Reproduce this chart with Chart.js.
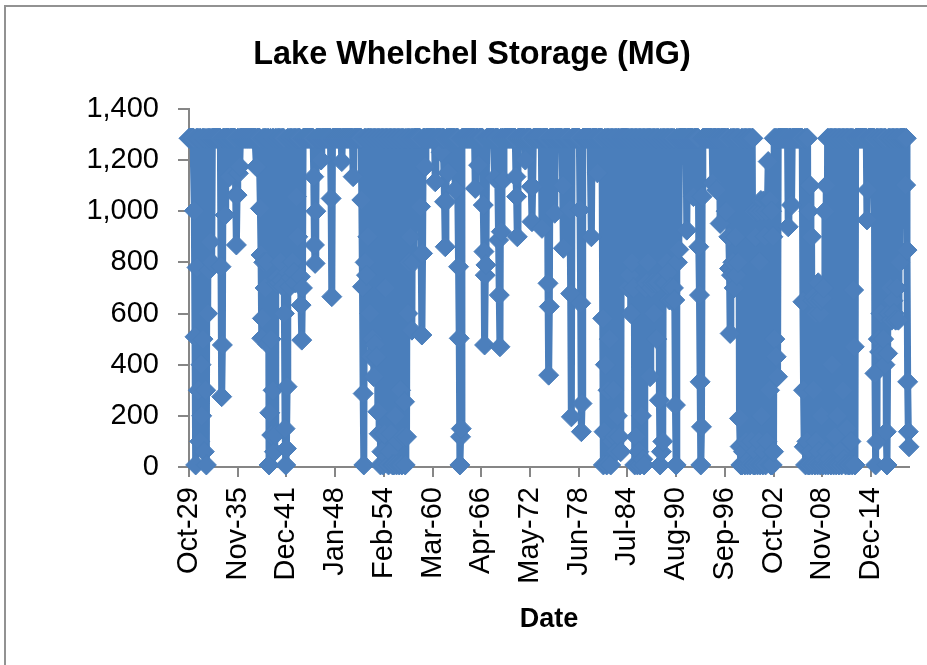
<!DOCTYPE html>
<html>
<head>
<meta charset="utf-8">
<title>Lake Whelchel Storage (MG)</title>
<script src="https://cdn.jsdelivr.net/npm/chart.js@4"></script>
<style>
    html, body { margin: 0; padding: 0; background: #fff; overflow: hidden; }
    #frame { position: absolute; left: 4px; top: 5px; width: 960px; height: 700px; border: 2px solid #929292; }
    #wrap { position: absolute; left: 0; top: 0; width: 927px; height: 665px; overflow: hidden; }
    canvas { position: absolute; left: 0; top: 0; }
</style>
</head>
<body>
<div id="wrap">
    <div id="frame"></div>
    <canvas id="canvas" width="927" height="665"></canvas>
</div>
<script>
var chartTitle = 'Lake Whelchel Storage (MG)';
var xTitle = 'Date';
var tickLabels = ['Oct-29', 'Nov-35', 'Dec-41', 'Jan-48', 'Feb-54', 'Mar-60', 'Apr-66', 'May-72',
    'Jun-78', 'Jul-84', 'Aug-90', 'Sep-96', 'Oct-02', 'Nov-08', 'Dec-14'];
var monthsPerTick = 73;

// F = pool full., one value a month from Oct-29, 30 months a row
var F = 1285;
var storage = [
    F,F,F,F,F,F,F,F,1002,509,8,F,780,F,300,F,100,F,400,200,F,500,F,60,F,300,8,F,600,F,
    770,F,880,F,800,F,F,F,F,F,F,F,F,F,F,F,F,F,783,275,477,F,F,F,985,F,F,F,F,F,
    F,1135,F,F,F,F,F,F,F,F,1063,868,1063,F,1148,F,1175,F,F,F,F,F,F,F,F,F,F,F,F,F,
    F,F,F,F,F,F,F,F,F,F,F,1174,F,F,F,F,F,1011,829,503,581,F,800,F,700,F,800,F,480,F,
    8,212,F,500,125,F,300,F,60,125,F,720,F,740,F,720,F,800,F,730,F,705,F,600,150,8,72,314,F,760,
    F,705,F,740,F,800,F,760,F,720,F,1057,F,900,F,F,F,744,633,496,700,F,F,F,F,F,F,F,F,F,
    F,F,F,F,F,F,F,1135,868,796,1000,F,F,F,F,F,F,F,1200,F,F,F,F,F,F,F,F,F,F,F,
    F,F,F,1050,666,F,F,F,F,F,F,F,F,F,F,F,F,F,F,1194,F,F,F,F,F,F,F,F,F,F,
    F,F,F,F,F,F,1135,F,F,F,F,F,F,F,F,F,F,F,F,1044,705,287,8,F,800,F,750,F,900,F,
    F,600,F,431,F,500,F,353,F,480,F,431,F,216,F,130,F,8,F,60,F,8,F,130,F,700,F,40,F,8,
    F,60,F,130,F,8,F,8,F,200,F,8,F,100,F,8,F,300,F,8,F,118,F,255,8,F,118,F,600,F,
    800,F,900,F,535,F,800,F,F,F,F,F,F,F,F,F,F,1018,835,516,835,F,F,F,1174,F,F,F,F,F,
    F,F,F,F,F,F,F,F,F,1115,F,F,F,F,F,F,F,F,1230,F,F,F,F,1037,861,1037,F,F,1150,F,
    F,F,F,F,F,F,F,F,F,1083,F,F,F,F,783,503,8,118,150,F,F,F,F,F,F,F,F,F,F,F,
    F,F,F,F,F,F,F,F,F,1089,F,F,F,F,1180,F,F,F,F,F,F,1024,842,477,750,790,F,F,F,F,
    F,F,F,F,F,F,F,F,1130,F,F,F,F,F,887,672,470,F,920,F,F,1122,F,F,F,F,F,F,F,F,
    F,F,F,F,F,F,F,F,F,F,1135,1057,900,F,F,F,F,F,F,F,F,F,F,F,1200,F,F,F,F,F,
    F,F,F,1096,959,1096,F,F,F,F,F,F,F,F,F,F,F,F,F,933,F,F,F,F,F,F,F,F,718,359,
    627,F,F,F,F,F,F,F,992,F,F,F,F,F,F,F,F,F,F,F,1100,855,F,F,F,F,F,F,F,F,
    F,1005,678,196,F,F,F,F,F,F,F,F,F,F,F,F,1005,640,138,248,F,F,F,F,F,F,F,F,F,F,
    F,F,F,900,F,F,F,F,F,F,F,F,1150,F,F,F,F,F,F,F,581,8,138,F,400,F,8,F,300,F,
    500,F,8,F,100,F,300,F,118,F,60,F,200,F,F,118,F,60,F,F,F,F,F,F,F,F,F,F,700,F,
    750,F,600,F,800,F,700,F,8,F,118,F,8,F,60,F,8,F,200,F,30,F,8,F,700,F,720,F,800,F,
    F,353,F,700,F,720,F,600,F,720,F,500,F,720,F,261,8,F,60,F,100,F,720,F,720,F,800,F,760,F,
    653,F,700,F,650,F,700,F,653,242,8,F,800,F,850,F,F,F,F,F,F,F,F,F,F,F,926,F,F,F,
    F,F,F,F,F,F,1057,F,F,F,F,F,F,F,861,672,333,8,157,1057,F,F,F,F,F,F,F,F,F,F,
    F,F,F,F,F,1110,F,F,F,F,F,1083,F,F,F,F,952,F,F,F,F,F,F,F,F,1000,F,F,F,900,
    776,522,F,750,F,800,F,700,F,900,F,750,F,800,F,190,80,8,F,8,F,60,F,8,F,100,F,8,F,30,
    F,8,F,100,F,F,8,1000,8,900,60,1000,8,1000,100,800,8,1042,200,1000,8,1040,60,900,8,1000,100,1042,1194,1042,
    300,1042,8,1000,8,900,60,F,500,F,431,F,353,F,F,F,F,F,F,F,F,F,F,F,F,F,F,F,939,F,
    F,F,F,1024,F,F,F,F,F,F,F,F,F,F,F,F,F,F,F,F,646,300,79,F,8,F,100,F,8,1000,
    8,1100,60,900,8,650,300,666,8,600,100,650,8,720,60,600,8,650,200,660,8,700,30,1000,8,1100,60,F,8,F,
    30,F,8,F,400,F,8,F,120,F,8,F,200,F,8,F,60,F,8,F,300,F,30,F,8,F,150,F,8,F,
    8,F,100,F,8,F,692,470,8,F,F,F,F,F,F,F,F,F,F,F,F,F,F,F,F,F,966,1083,F,F,
    F,F,F,F,F,F,F,F,366,8,F,100,F,500,F,450,F,600,F,444,F,500,F,400,F,138,8,444,F,600,
    F,700,F,574,F,650,F,600,F,574,F,700,F,574,F,800,F,F,F,F,F,F,F,F,1102,F,848,333,138,79
];

var points = storage.map(function (v, i) {
    return { x: i, y: v };
});

var tickFont = { family: 'Liberation Sans', size: 29 };

var ctx = document.getElementById('canvas').getContext('2d');
var myChart = new Chart(ctx, {
    type: 'line',
    data: {
        datasets: [{
            label: 'Storage',
            data: points,
            borderColor: '#4a7ebb',
            borderWidth: 7,
            borderJoinStyle: 'round',
            tension: 0,
            pointStyle: 'rectRot',
            pointRadius: 10,
            pointBackgroundColor: '#4c7fbc',
            pointBorderColor: '#4a7ebb',
            pointBorderWidth: 1,
            clip: false
        }]
    },
    options: {
        responsive: false,
        animation: false,
        // left padding larger than right keeps the title off centre as in the original
        layout: { padding: { left: 35, right: 18, top: 0, bottom: 0 } },
        plugins: {
            legend: { display: false },
            tooltip: { enabled: false },
            title: {
                display: true,
                text: chartTitle,
                color: '#000',
                font: { family: 'Liberation Sans', size: 32.4, weight: 'bold' },
                padding: { top: 36, bottom: 34 }
            }
        },
        scales: {
            x: {
                type: 'linear',
                min: 0,
                max: 1079,
                afterFit: function (scale) { scale.height = 198; },
                border: { color: '#868686', width: 2 },
                grid: { drawOnChartArea: false, color: '#868686', lineWidth: 2, tickLength: 10 },
                title: {
                    display: true,
                    text: xTitle,
                    color: '#000',
                    font: { family: 'Liberation Sans', size: 27, weight: 'bold' },
                    padding: { top: 10, bottom: 29 }
                },
                ticks: {
                    stepSize: monthsPerTick,
                    includeBounds: false,
                    autoSkip: false,
                    minRotation: 90,
                    maxRotation: 90,
                    padding: 10,
                    color: '#000',
                    font: tickFont,
                    callback: function (value) { return tickLabels[value / monthsPerTick]; }
                }
            },
            y: {
                min: 0,
                max: 1400,
                afterFit: function (scale) { scale.width = 154; },
                border: { color: '#868686', width: 2 },
                grid: { drawOnChartArea: false, color: '#868686', lineWidth: 2, tickLength: 11 },
                ticks: {
                    stepSize: 200,
                    padding: 19,
                    color: '#000',
                    font: tickFont,
                    callback: function (value) { return value.toLocaleString('en-US'); }
                }
            }
        }
    }
});
</script>
</body>
</html>
